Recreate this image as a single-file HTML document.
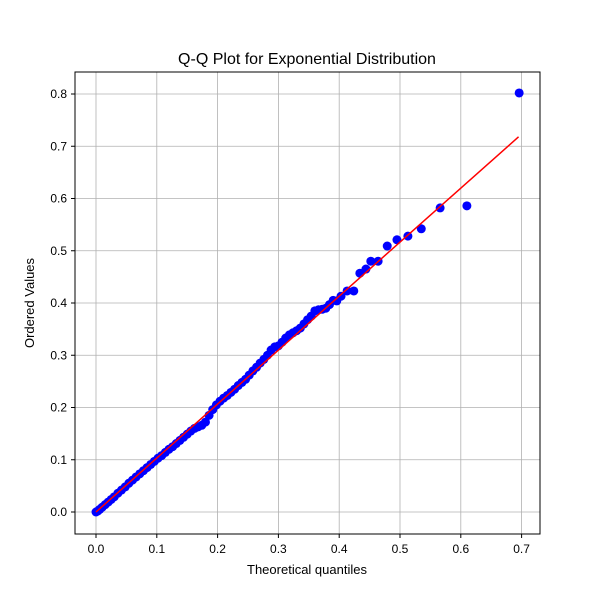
<!DOCTYPE html>
<html><head><meta charset="utf-8"><style>
body{margin:0;background:#fff;}
svg text{font-family:"Liberation Sans","DejaVu Sans",sans-serif;}
</style></head><body>
<svg id="chart" width="600" height="600">
<rect width="600" height="600" fill="#fff"/>
<g id="grid"></g><g id="ticks"></g><g id="line"></g><g id="pts"></g>
<rect x="75" y="72" width="465" height="462" fill="none" stroke="#000" stroke-width="1"/>
<text x="307" y="64" font-size="16" text-anchor="middle">Q-Q Plot for Exponential Distribution</text>
<text x="307" y="574" font-size="13" text-anchor="middle">Theoretical quantiles</text>
<text x="34" y="303" font-size="13" text-anchor="middle" transform="rotate(-90 34 303)">Ordered Values</text>
</svg>
<script>
const xTicks=[0,0.1,0.2,0.3,0.4,0.5,0.6,0.7];
const yTicks=[0,0.1,0.2,0.3,0.4,0.5,0.6,0.7,0.8];
const theoretical=[0,0.003,0.006,0.01,0.015,0.02,0.025,0.03,0.036,0.042,0.048,0.054,0.06,0.066,0.072,0.078,0.084,0.09,0.096,0.102,0.108,0.114,0.12,0.126,0.132,0.138,0.144,0.15,0.156,0.162,0.168,0.174,0.18,0.186,0.192,0.198,0.204,0.21,0.216,0.222,0.228,0.234,0.24,0.246,0.252,0.258,0.264,0.27,0.276,0.282,0.288,0.294,0.3,0.306,0.312,0.318,0.324,0.33,0.336,0.342,0.348,0.354,0.36,0.366,0.372,0.378,0.384,0.39,0.396,0.403,0.413,0.424,0.434,0.444,0.452,0.464,0.479,0.495,0.513,0.535,0.566,0.61,0.696];
const ordered=[0,0.002,0.005,0.009,0.014,0.019,0.024,0.029,0.036,0.042,0.048,0.055,0.061,0.067,0.073,0.079,0.085,0.091,0.097,0.103,0.108,0.114,0.12,0.125,0.131,0.137,0.143,0.149,0.155,0.16,0.163,0.166,0.172,0.185,0.196,0.205,0.212,0.218,0.223,0.229,0.235,0.242,0.248,0.254,0.262,0.27,0.277,0.285,0.292,0.3,0.31,0.316,0.318,0.325,0.333,0.339,0.343,0.347,0.352,0.36,0.368,0.375,0.385,0.387,0.388,0.39,0.397,0.405,0.404,0.413,0.423,0.423,0.457,0.465,0.48,0.48,0.509,0.521,0.528,0.542,0.582,0.586,0.802];
const fitLine=[[0,0],[0.695,0.718]];
const NS="http://www.w3.org/2000/svg";
const sx=v=>96+v*608, sy=v=>512-v*522.5;
function mk(tag,attrs,parent){const e=document.createElementNS(NS,tag);for(const k in attrs)e.setAttribute(k,attrs[k]);parent.appendChild(e);return e;}
const grid=document.getElementById('grid'),ticks=document.getElementById('ticks');
xTicks.forEach(t=>{const x=sx(t);
 const g=mk('line',{x1:x,x2:x,y1:72,y2:534,stroke:'#b0b0b0','stroke-width':0.8},grid);
 
 mk('line',{x1:x,x2:x,y1:534,y2:538,stroke:'#000'},ticks);
 const l=mk('text',{x:x,y:553,'font-size':12,'text-anchor':'middle'},ticks);l.textContent=t.toFixed(1);
 });
yTicks.forEach(t=>{const y=sy(t);
 const g=mk('line',{x1:75,x2:540,y1:y,y2:y,stroke:'#b0b0b0','stroke-width':0.8},grid);
 
 mk('line',{x1:71,x2:75,y1:y,y2:y,stroke:'#000'},ticks);
 const l=mk('text',{x:67,y:y+4,'font-size':12,'text-anchor':'end'},ticks);l.textContent=t.toFixed(1);
 });
const pts=document.getElementById('pts');
theoretical.forEach((t,i)=>{const c=mk('circle',{cx:sx(t),cy:sy(ordered[i]),r:4.5,fill:'#0000ff'},pts);
 });
const ln=mk('line',{x1:sx(fitLine[0][0]),y1:sy(fitLine[0][1]),x2:sx(fitLine[1][0]),y2:sy(fitLine[1][1]),stroke:'#ff0000','stroke-width':1.5},document.getElementById('chart'));

</script>
</body></html>
